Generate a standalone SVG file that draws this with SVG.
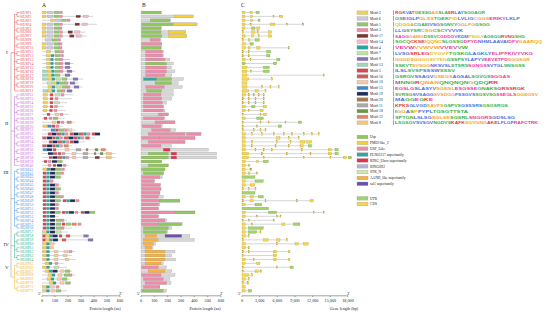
<svg xmlns="http://www.w3.org/2000/svg" width="550" height="314" viewBox="0 0 550 314">
<style>
text{font-family:"Liberation Serif","Times New Roman",serif}
.lb{font-size:3.6px}
.c1{fill:#e8474c}.c2{fill:#c064d2}.c3{fill:#3f92dc}.c4{fill:#27b083}.c5{fill:#efb226}
.t1{stroke:#e8474c}.t2{stroke:#c064d2}.t3{stroke:#3f92dc}.t4{stroke:#27b083}.t5{stroke:#efb226}
.tr{fill:none;stroke-width:.5}
.ln{stroke:#a3a3a3;stroke-width:.45;fill:none}
.bar{fill:#d7d7d7;stroke:#a0a0a0;stroke-width:.3;y:-1.4px;height:2.8px}
.U,.P,.L,.T,.R,.G,.K,.O,.S{y:-1.4px;height:2.8px;stroke:#8d8d8d;stroke-width:.2}
.U{fill:#8fc85a}.P{fill:#f8d034}.L{fill:#f08aa8}.T{fill:#2ea7a0}.R{fill:#e8304a}.G{fill:#b9b2d8}.K{fill:#c9e8a9}.O{fill:#f8b040}.S{fill:#6a52a8}
.e{fill:#f7d44c;stroke:#a89a3a;stroke-width:.25;y:-1.3px;height:2.6px}
.u{fill:#a3d26e;stroke:#6f9a40;stroke-width:.25;y:-1.3px;height:2.6px}
.ax{stroke:#333;stroke-width:.45;fill:none}
.tk{font-size:4.2px;text-anchor:middle;fill:#222}
.tt{font-size:4.2px;text-anchor:middle;fill:#222}
.pl{font-size:5.5px;fill:#222}
.gl{font-size:5px;fill:#222}
.lg{font-size:3.6px;fill:#222}
.sw{stroke:#999;stroke-width:.3}
.lo{font-family:"Liberation Sans",Arial,sans-serif;font-weight:bold;font-size:4.4px}
.g{fill:#3cb043}.b{fill:#4a72e0}.r{fill:#e8409c}.o{fill:#f4a42a}.p{fill:#9a55b8}.y{fill:#e6c020}.k{fill:#e03a3a}
</style>
<defs>
<rect id="a2" y="-1.3" width="4" height="2.6" fill="#f6d04d" stroke="#999" stroke-width=".25"/>
<rect id="a6" y="-1.3" width="6" height="2.6" fill="#c9c9d9" stroke="#999" stroke-width=".25"/>
<rect id="a1" y="-1.3" width="5" height="2.6" fill="#94c66b" stroke="#999" stroke-width=".25"/>
<rect id="a3" y="-1.3" width="3" height="2.6" fill="#f28ca5" stroke="#999" stroke-width=".25"/>
<rect id="a17" y="-1.3" width="4.5" height="2.6" fill="#7b3535" stroke="#999" stroke-width=".25"/>
<rect id="a14" y="-1.3" width="5.5" height="2.6" fill="#f5b8c9" stroke="#999" stroke-width=".25"/>
<rect id="a4" y="-1.3" width="3" height="2.6" fill="#26a69a" stroke="#999" stroke-width=".25"/>
<rect id="a7" y="-1.3" width="5" height="2.6" fill="#bfe3a6" stroke="#999" stroke-width=".25"/>
<rect id="a9" y="-1.3" width="5" height="2.6" fill="#8474b8" stroke="#999" stroke-width=".25"/>
<rect id="a13" y="-1.3" width="5" height="2.6" fill="#9fd8b8" stroke="#999" stroke-width=".25"/>
<rect id="a5" y="-1.3" width="3" height="2.6" fill="#e2404f" stroke="#999" stroke-width=".25"/>
<rect id="a16" y="-1.3" width="4" height="2.6" fill="#d85858" stroke="#999" stroke-width=".25"/>
<rect id="a10" y="-1.3" width="4" height="2.6" fill="#f9c9a0" stroke="#999" stroke-width=".25"/>
<rect id="a15" y="-1.3" width="4" height="2.6" fill="#3b8ad4" stroke="#999" stroke-width=".25"/>
<rect id="a19" y="-1.3" width="5" height="2.6" fill="#1f2e5c" stroke="#999" stroke-width=".25"/>
<rect id="a20" y="-1.3" width="2" height="2.6" fill="#a57c52" stroke="#999" stroke-width=".25"/>
<rect id="a11" y="-1.3" width="5" height="2.6" fill="#a9a9a9" stroke="#999" stroke-width=".25"/>
<rect id="a18" y="-1.3" width="3" height="2.6" fill="#6b9a3e" stroke="#999" stroke-width=".25"/>
<rect id="a12" y="-1.3" width="4.5" height="2.6" fill="#e88466" stroke="#999" stroke-width=".25"/>
<rect id="a8" y="-1.3" width="5.5" height="2.6" fill="#f9c476" stroke="#999" stroke-width=".25"/>
</defs>
<rect width="550" height="314" fill="#fff"/>
<g id="titles"><text class="pl" x="42" y="7">A</text><text class="pl" x="142" y="7">B</text><text class="pl" x="241" y="7">C</text>
<text class="gl" x="6" y="54">I</text><text class="gl" x="5" y="125">II</text><text class="gl" x="3.5" y="174">III</text><text class="gl" x="3.5" y="246">IV</text><text class="gl" x="5" y="269">V</text></g>
<g id="tree">
<path class="tr" stroke="#8a8a8a" stroke-width=".8" d="M11 52.7V277.1"/>
<path class="tr t1" d="M11 52.7H14.5M19.5 12.5H17V16.4H19.5M14.5 14.45H17M19.5 20.3H17V24.3H19.5M14.5 22.3H17M19.5 28.2H17V32.1H19.5M14.5 30.15H17M19.5 36H17V39.9H19.5M14.5 37.95H17M19.5 43.9H17V47.8H19.5M14.5 45.85H17M19.5 51.7H17V55.6H19.5M14.5 53.65H17M19.5 59.5H17V63.5H19.5M14.5 61.5H17M19.5 67.4H17V71.3H19.5M14.5 69.35H17M19.5 75.2H17V79.1H19.5M14.5 77.15H17M19.5 83.1H17V87H19.5M14.5 85.05H17M14.5 14.45V90.9H19.5"/>
<path class="tr t2" d="M11 131.1H14.5M19.5 94.8H17V98.7H19.5M14.5 96.75H17M19.5 102.7H17V106.6H19.5M14.5 104.65H17M19.5 110.5H17V114.4H19.5M14.5 112.45H17M19.5 118.3H17V122.3H19.5M14.5 120.3H17M19.5 126.2H17V130.1H19.5M14.5 128.15H17M19.5 134H17V137.9H19.5M14.5 135.95H17M19.5 141.9H17V145.8H19.5M14.5 143.85H17M19.5 149.7H17V153.6H19.5M14.5 151.65H17M19.5 157.5H17V161.5H19.5M14.5 159.5H17M14.5 96.75V165.4H19.5"/>
<path class="tr t3" d="M11 198.7H14.5M19.5 169.3H17V173.2H19.5M14.5 171.25H17M19.5 177.1H17V181.1H19.5M14.5 179.1H17M19.5 185H17V188.9H19.5M14.5 186.95H17M19.5 192.8H17V196.7H19.5M14.5 194.75H17M19.5 200.7H17V204.6H19.5M14.5 202.65H17M19.5 208.5H17V212.4H19.5M14.5 210.45H17M19.5 216.3H17V220.3H19.5M14.5 218.3H17M19.5 224.2H17V228.1H19.5M14.5 226.15H17M14.5 171.25V226.15"/>
<path class="tr t4" d="M11 245.7H14.5M19.5 232H17V235.9H19.5M14.5 233.95H17M19.5 239.9H17V243.8H19.5M14.5 241.85H17M19.5 247.7H17V251.6H19.5M14.5 249.65H17M19.5 255.5H17V259.5H19.5M14.5 257.5H17M14.5 233.95V257.5"/>
<path class="tr t5" d="M11 277.1H14.5M19.5 263.4H17V267.3H19.5M14.5 265.35H17M19.5 271.2H17V275.1H19.5M14.5 273.15H17M19.5 279.1H17V283H19.5M14.5 281.05H17M19.5 286.9H17V290.8H19.5M14.5 288.85H17M14.5 265.35V288.85"/>
</g>
<g id="SlUSP1" transform="translate(0,12.5)"><text class="lb c1" x="20" y="1.3">SlUSP1</text><path class="ln" d="M42 0H62.2M242 0H259.3"/><use href="#a2" x="42"/><use href="#a6" x="47"/><use href="#a1" x="54"/><use href="#a3" x="59.5"/><rect class="bar" x="141" width="20.7"/><rect class="U" x="141.7" width="19.3"/><rect class="e" x="242" width="3"/><rect class="e" x="250" width="2.5"/><rect class="u" x="256" width="3.3"/></g>
<g id="SlUSP2" transform="translate(0,16.4)"><text class="lb c1" x="20" y="1.3">SlUSP2</text><path class="ln" d="M42 0H93M242 0H282.7"/><use href="#a2" x="42"/><use href="#a6" x="47"/><use href="#a1" x="54"/><use href="#a3" x="59.5"/><use href="#a17" x="76"/><use href="#a14" x="83"/><rect class="bar" x="141" width="52.3"/><rect class="P" x="174.3" width="18.9"/><rect class="e" x="242" width="3"/><rect class="e" x="250.5" width="2"/><rect class="e" x="273" width="1"/><rect class="e" x="279.3" width="3.4"/></g>
<g id="SlUSP3" transform="translate(0,20.3)"><text class="lb c1" x="20" y="1.3">SlUSP3</text><path class="ln" d="M42 0H70.9M242 0H260"/><use href="#a2" x="50.5"/><use href="#a6" x="55"/><use href="#a1" x="61.5"/><use href="#a3" x="67"/><rect class="bar" x="141" width="29.6"/><rect class="U" x="150.1" width="20"/><rect class="e" x="242" width="3"/><rect class="e" x="250.7" width="2"/><rect class="u" x="258.3" width="1.7"/></g>
<g id="SlUSP4" transform="translate(0,24.3)"><text class="lb c1" x="20" y="1.3">SlUSP4</text><path class="ln" d="M42 0H96.9M242 0H303.7"/><use href="#a2" x="42"/><use href="#a6" x="47"/><use href="#a1" x="54"/><use href="#a3" x="59.5"/><use href="#a17" x="75"/><use href="#a14" x="82"/><rect class="bar" x="141" width="56.3"/><rect class="U" x="141.7" width="31.6"/><rect class="P" x="173.3" width="23.3"/><rect class="e" x="242" width="3"/><rect class="e" x="250" width="1.7"/><rect class="e" x="270" width="5"/><rect class="e" x="286.7" width="1"/><rect class="u" x="302.7" width="1"/></g>
<g id="SlUSP5" transform="translate(0,28.2)"><text class="lb c1" x="20" y="1.3">SlUSP5</text><path class="ln" d="M42 0H62.2M242 0H260"/><use href="#a2" x="42"/><use href="#a6" x="47"/><use href="#a1" x="54"/><use href="#a3" x="59"/><rect class="bar" x="141" width="20.7"/><rect class="U" x="141.7" width="19.3"/><rect class="e" x="242" width="3"/><rect class="u" x="251.7" width="3.3"/><rect class="e" x="256.7" width="3.3"/></g>
<g id="SlUSP6" transform="translate(0,32.1)"><text class="lb c1" x="20" y="1.3">SlUSP6</text><path class="ln" d="M42 0H85.6M242 0H271.6"/><use href="#a2" x="42"/><use href="#a6" x="47"/><use href="#a1" x="54"/><use href="#a3" x="59.5"/><use href="#a17" x="68"/><use href="#a14" x="74.5"/><rect class="bar" x="141" width="44.7"/><rect class="U" x="141.7" width="19.3"/><rect class="P" x="168.3" width="17.3"/><rect class="e" x="242" width="1.7"/><rect class="e" x="251.7" width="3.3"/><rect class="e" x="257" width="1.5"/><rect class="e" x="268.3" width="3.3"/></g>
<g id="SlUSP7" transform="translate(0,36)"><text class="lb c1" x="20" y="1.3">SlUSP7</text><path class="ln" d="M42 0H86.5M242 0H271.7"/><use href="#a2" x="42"/><use href="#a6" x="47"/><use href="#a1" x="54"/><use href="#a3" x="59.5"/><use href="#a17" x="69.5"/><use href="#a14" x="76"/><rect class="bar" x="141" width="45.6"/><rect class="U" x="141.7" width="20"/><rect class="P" x="168.3" width="18.3"/><rect class="e" x="242" width="3"/><rect class="e" x="251.7" width="1.7"/><rect class="e" x="258.3" width="1"/><rect class="e" x="268.3" width="3.4"/></g>
<g id="SlUSP8" transform="translate(0,39.9)"><text class="lb c1" x="20" y="1.3">SlUSP8</text><path class="ln" d="M42 0H61.5M242 0H259.3"/><use href="#a6" x="45.5"/><use href="#a1" x="52"/><use href="#a3" x="57.5"/><rect class="bar" x="141" width="20"/><rect class="L" x="150.1" width="9.9"/><rect class="e" x="242" width="1.7"/><rect class="e" x="248.3" width="1.7"/><rect class="u" x="255" width="4.3"/></g>
<g id="SlUSP9" transform="translate(0,43.9)"><text class="lb c1" x="20" y="1.3">SlUSP9</text><path class="ln" d="M42 0H62.2M242 0H253.3"/><use href="#a2" x="42"/><use href="#a6" x="47"/><use href="#a1" x="54"/><use href="#a3" x="59"/><rect class="bar" x="141" width="20.7"/><rect class="L" x="141.7" width="20"/><rect class="e" x="242" width="3.3"/><rect class="u" x="250" width="3.3"/></g>
<g id="SlUSP10" transform="translate(0,47.8)"><text class="lb c1" x="20" y="1.3">SlUSP10</text><path class="ln" d="M42 0H62.2M242 0H289.3"/><use href="#a2" x="42"/><use href="#a6" x="47"/><use href="#a1" x="54"/><use href="#a3" x="59"/><rect class="bar" x="141" width="20.7"/><rect class="U" x="141.7" width="19.3"/><rect class="e" x="242" width="3.3"/><rect class="e" x="248.3" width="1.7"/><rect class="e" x="256.7" width="3.3"/><rect class="e" x="288.3" width="1"/></g>
<g id="SlUSP11" transform="translate(0,51.7)"><text class="lb c1" x="20" y="1.3">SlUSP11</text><path class="ln" d="M42 0H63.7M242 0H270.7"/><use href="#a2" x="46.5"/><use href="#a1" x="55"/><use href="#a3" x="60.5"/><rect class="bar" x="141" width="22.3"/><rect class="L" x="145.7" width="16.9"/><rect class="e" x="242" width="1.7"/><rect class="e" x="248.3" width="1"/><rect class="u" x="266.7" width="4"/></g>
<g id="SlUSP12" transform="translate(0,55.6)"><text class="lb c1" x="20" y="1.3">SlUSP12</text><path class="ln" d="M42 0H63.7M242 0H270"/><use href="#a2" x="46.5"/><use href="#a4" x="51"/><use href="#a1" x="55"/><use href="#a3" x="60.5"/><rect class="bar" x="141" width="22.3"/><rect class="L" x="145.7" width="16.9"/><rect class="e" x="242" width="1.7"/><rect class="e" x="248.3" width="1"/><rect class="u" x="266.7" width="3.3"/></g>
<g id="SlUSP13" transform="translate(0,59.5)"><text class="lb c1" x="20" y="1.3">SlUSP13</text><path class="ln" d="M42 0H70.2M242 0H280"/><use href="#a2" x="46.5"/><use href="#a4" x="50.5"/><use href="#a1" x="55"/><use href="#a3" x="60"/><rect class="bar" x="141" width="28.9"/><rect class="L" x="145.7" width="19.3"/><rect class="e" x="242" width="3.3"/><rect class="e" x="250" width="1"/><rect class="u" x="276.7" width="3.3"/></g>
<g id="SlUSP14" transform="translate(0,63.5)"><text class="lb c1" x="20" y="1.3">SlUSP14</text><path class="ln" d="M42 0H73.5M242 0H276.7"/><use href="#a2" x="46.5"/><use href="#a4" x="50.5"/><use href="#a1" x="55"/><use href="#a3" x="60"/><use href="#a9" x="65"/><rect class="bar" x="141" width="32.3"/><rect class="U" x="145.7" width="20.9"/><rect class="u" x="242" width="3.3"/><rect class="u" x="273.3" width="3.4"/></g>
<g id="SlUSP15" transform="translate(0,67.4)"><text class="lb c1" x="20" y="1.3">SlUSP15</text><path class="ln" d="M42 0H71.9M242 0H269.3"/><use href="#a2" x="46.5"/><use href="#a4" x="50.5"/><use href="#a1" x="55"/><use href="#a3" x="60"/><use href="#a9" x="65"/><rect class="bar" x="141" width="30.7"/><rect class="L" x="145.7" width="20.9"/><rect class="e" x="242" width="5"/><rect class="u" x="263.3" width="6"/></g>
<g id="SlUSP16" transform="translate(0,71.3)"><text class="lb c1" x="20" y="1.3">SlUSP16</text><path class="ln" d="M42 0H75.2M242 0H269.3"/><use href="#a13" x="42.5"/><use href="#a2" x="47.5"/><use href="#a4" x="51.5"/><use href="#a1" x="55"/><use href="#a3" x="60"/><use href="#a9" x="67"/><rect class="bar" x="141" width="34"/><rect class="L" x="145.7" width="20.9"/><rect class="e" x="242" width="5"/><rect class="e" x="250.7" width="1"/><rect class="u" x="263.3" width="6"/></g>
<g id="SlUSP17" transform="translate(0,75.2)"><text class="lb c1" x="20" y="1.3">SlUSP17</text><path class="ln" d="M42 0H71.9M242 0H324.3"/><use href="#a13" x="42.5"/><use href="#a2" x="47.5"/><use href="#a4" x="51.5"/><use href="#a1" x="55"/><use href="#a9" x="65"/><rect class="bar" x="141" width="30.7"/><rect class="L" x="145.7" width="19.3"/><rect class="e" x="242" width="5"/><rect class="e" x="323.3" width="1"/></g>
<g id="SlUSP18" transform="translate(0,79.1)"><text class="lb c1" x="20" y="1.3">SlUSP18</text><path class="ln" d="M42 0H83.2M242 0H272.7"/><use href="#a13" x="42.5"/><use href="#a2" x="48"/><use href="#a4" x="52"/><use href="#a7" x="56"/><use href="#a1" x="62"/><use href="#a9" x="73"/><rect class="bar" x="141" width="42.3"/><rect class="T" x="143.4" width="13.3"/><rect class="U" x="156.7" width="14.9"/><rect class="e" x="242" width="6.7"/><rect class="e" x="271.7" width="1"/></g>
<g id="SlUSP19" transform="translate(0,83.1)"><text class="lb c1" x="20" y="1.3">SlUSP19</text><path class="ln" d="M42 0H78.4M242 0H247"/><use href="#a7" x="47"/><use href="#a2" x="52.5"/><use href="#a4" x="56.5"/><use href="#a1" x="60"/><use href="#a3" x="65"/><use href="#a9" x="70"/><rect class="bar" x="141" width="37.3"/><rect class="U" x="155" width="16.7"/><rect class="e" x="242" width="5"/></g>
<g id="SlUSP20" transform="translate(0,87)"><text class="lb c1" x="20" y="1.3">SlUSP20</text><path class="ln" d="M42 0H82.3M242 0H279.3"/><use href="#a2" x="48"/><use href="#a4" x="52"/><use href="#a7" x="56"/><use href="#a1" x="62"/><use href="#a3" x="67"/><use href="#a9" x="74"/><rect class="bar" x="141" width="41.3"/><rect class="L" x="145.7" width="18.7"/><rect class="e" x="242" width="5"/><rect class="e" x="261.7" width="1"/><rect class="e" x="270" width="1"/><rect class="e" x="278.3" width="1"/></g>
<g id="SlUSP21" transform="translate(0,90.9)"><text class="lb c1" x="20" y="1.3">SlUSP21</text><path class="ln" d="M42 0H73.5M242 0H266"/><use href="#a13" x="43"/><use href="#a2" x="48"/><use href="#a4" x="52"/><use href="#a1" x="57"/><use href="#a3" x="62"/><use href="#a9" x="67"/><rect class="bar" x="141" width="32.3"/><rect class="U" x="146.6" width="15.1"/><rect class="e" x="242" width="6.7"/><rect class="e" x="255" width="3.3"/><rect class="e" x="265" width="1"/></g>
<g id="SlUSP22" transform="translate(0,94.8)"><text class="lb c2" x="20" y="1.3">SlUSP22</text><path class="ln" d="M42 0H73.5M242 0H264.3"/><use href="#a2" x="43.5"/><use href="#a5" x="50"/><use href="#a7" x="55"/><use href="#a3" x="61"/><rect class="bar" x="141" width="32.3"/><rect class="L" x="143.7" width="17.3"/><rect class="e" x="242" width="3.3"/><rect class="e" x="248.3" width="1"/><rect class="e" x="253.3" width="1"/><rect class="e" x="258.3" width="1"/><rect class="e" x="263.3" width="1"/></g>
<g id="SlUSP23" transform="translate(0,98.7)"><text class="lb c2" x="20" y="1.3">SlUSP23</text><path class="ln" d="M42 0H71.9M242 0H264.3"/><use href="#a2" x="43.5"/><use href="#a5" x="50"/><use href="#a3" x="55"/><rect class="bar" x="141" width="30.7"/><rect class="L" x="143.4" width="18.3"/><rect class="e" x="242" width="1.7"/><rect class="e" x="248.3" width="1"/><rect class="e" x="255" width="1"/><rect class="e" x="263.3" width="1"/></g>
<g id="SlUSP24" transform="translate(0,102.7)"><text class="lb c2" x="20" y="1.3">SlUSP24</text><path class="ln" d="M42 0H67M242 0H264.3"/><use href="#a2" x="43.5"/><use href="#a5" x="50"/><use href="#a7" x="54.5"/><rect class="bar" x="141" width="25.6"/><rect class="L" x="143.4" width="18.9"/><rect class="e" x="242" width="1.7"/><rect class="e" x="248.3" width="1"/><rect class="e" x="255" width="1"/><rect class="e" x="263.3" width="1"/></g>
<g id="SlUSP25" transform="translate(0,106.6)"><text class="lb c2" x="20" y="1.3">SlUSP25</text><path class="ln" d="M42 0H63.7M242 0H266.6"/><use href="#a2" x="43.5"/><use href="#a5" x="50"/><use href="#a3" x="54.5"/><rect class="bar" x="141" width="22.3"/><rect class="L" x="143.4" width="19.9"/><rect class="e" x="242" width="3.3"/><rect class="u" x="251.7" width="3.3"/><rect class="e" x="263.3" width="3.3"/></g>
<g id="SlUSP26" transform="translate(0,110.5)"><text class="lb c2" x="20" y="1.3">SlUSP26</text><path class="ln" d="M42 0H65.4M242 0H263.3"/><use href="#a2" x="43"/><use href="#a5" x="49.5"/><use href="#a3" x="54"/><rect class="bar" x="141" width="24"/><rect class="L" x="143.4" width="19.9"/><rect class="e" x="242" width="3.3"/><rect class="e" x="248.3" width="1"/><rect class="e" x="260" width="3.3"/></g>
<g id="SlUSP27" transform="translate(0,114.4)"><text class="lb c2" x="20" y="1.3">SlUSP27</text><path class="ln" d="M42 0H68.7M242 0H266.6"/><use href="#a5" x="47"/><use href="#a10" x="55"/><use href="#a3" x="60"/><rect class="bar" x="141" width="27.3"/><rect class="L" x="158.3" width="10"/><rect class="e" x="242" width="1.7"/><rect class="e" x="260" width="1"/><rect class="e" x="263.3" width="3.3"/></g>
<g id="SlUSP28" transform="translate(0,118.3)"><text class="lb c2" x="20" y="1.3">SlUSP28</text><path class="ln" d="M42 0H64.8M242 0H263.4"/><use href="#a5" x="44"/><use href="#a3" x="49"/><use href="#a1" x="53"/><rect class="bar" x="141" width="23.3"/><rect class="L" x="143.4" width="20.9"/><rect class="e" x="242" width="3.3"/><rect class="u" x="256.7" width="6.7"/></g>
<g id="SlUSP29" transform="translate(0,122.3)"><text class="lb c2" x="20" y="1.3">SlUSP29</text><path class="ln" d="M42 0H75.2M242 0H301.6"/><use href="#a10" x="52"/><use href="#a5" x="57"/><use href="#a3" x="61"/><use href="#a12" x="67"/><rect class="bar" x="141" width="34"/><rect class="L" x="155" width="20"/><rect class="e" x="242" width="1.7"/><rect class="e" x="260" width="1"/><rect class="e" x="268.3" width="1"/><rect class="e" x="285" width="1"/><rect class="u" x="298.3" width="3.3"/></g>
<g id="SlUSP30" transform="translate(0,126.2)"><text class="lb c2" x="20" y="1.3">SlUSP30</text><path class="ln" d="M42 0H62.8M242 0H281.6"/><use href="#a2" x="43"/><use href="#a15" x="47.5"/><use href="#a5" x="52"/><use href="#a3" x="56"/><rect class="bar" x="141" width="21.3"/><rect class="L" x="142.3" width="18.7"/><rect class="e" x="242" width="1.7"/><rect class="e" x="256.7" width="1"/><rect class="u" x="278.3" width="3.3"/></g>
<g id="SlUSP31" transform="translate(0,130.1)"><text class="lb c2" x="20" y="1.3">SlUSP31</text><path class="ln" d="M42 0H75.8M242 0H266"/><use href="#a15" x="51"/><use href="#a5" x="55.5"/><use href="#a1" x="59"/><use href="#a3" x="64.5"/><use href="#a10" x="68"/><rect class="bar" x="141" width="34.7"/><rect class="L" x="151.7" width="18.4"/><rect class="e" x="242" width="1.7"/><rect class="e" x="253.3" width="1"/><rect class="e" x="260" width="1"/><rect class="e" x="265" width="1"/></g>
<g id="SlUSP32" transform="translate(0,134)"><text class="lb c2" x="20" y="1.3">SlUSP32</text><path class="ln" d="M42 0H100.5M242 0H319.3"/><use href="#a5" x="48"/><use href="#a19" x="51.5"/><use href="#a16" x="57"/><use href="#a4" x="61.5"/><use href="#a3" x="65"/><use href="#a5" x="70"/><use href="#a19" x="73.5"/><use href="#a16" x="79"/><use href="#a4" x="83.5"/><use href="#a3" x="87"/><use href="#a5" x="92"/><use href="#a19" x="95"/><rect class="bar" x="141" width="60"/><rect class="L" x="148.3" width="18.3"/><rect class="L" x="166.6" width="18.4"/><rect class="L" x="186.6" width="14.4"/><rect class="e" x="242" width="3.3"/><rect class="e" x="251.7" width="1"/><rect class="e" x="261.7" width="1"/><rect class="e" x="273.3" width="1"/><rect class="e" x="283.3" width="1"/><rect class="e" x="291.7" width="1"/><rect class="e" x="303.3" width="1"/><rect class="e" x="311.7" width="1"/><rect class="e" x="318.3" width="1"/></g>
<g id="SlUSP33" transform="translate(0,137.9)"><text class="lb c2" x="20" y="1.3">SlUSP33</text><path class="ln" d="M42 0H94.7M242 0H299.3"/><use href="#a16" x="42.5"/><use href="#a19" x="47"/><use href="#a5" x="52.5"/><use href="#a4" x="56"/><use href="#a3" x="59.5"/><use href="#a16" x="64"/><use href="#a19" x="68.5"/><use href="#a5" x="74"/><use href="#a4" x="77.5"/><use href="#a3" x="81"/><use href="#a16" x="85.5"/><rect class="bar" x="141" width="54"/><rect class="L" x="141.7" width="18.3"/><rect class="L" x="159.9" width="20"/><rect class="L" x="179.9" width="15.1"/><rect class="e" x="242" width="3.3"/><rect class="e" x="276.7" width="3.3"/><rect class="e" x="288.3" width="1"/><rect class="e" x="298.3" width="1"/></g>
<g id="SlUSP34" transform="translate(0,141.9)"><text class="lb c2" x="20" y="1.3">SlUSP34</text><path class="ln" d="M42 0H84.9M242 0H311.7"/><use href="#a5" x="49"/><use href="#a19" x="52.5"/><use href="#a16" x="58"/><use href="#a4" x="62.5"/><use href="#a3" x="66"/><use href="#a5" x="70"/><use href="#a19" x="73.5"/><rect class="bar" x="141" width="44"/><rect class="L" x="148.3" width="36.7"/><rect class="e" x="242" width="3.3"/><rect class="e" x="251.7" width="1"/><rect class="e" x="276.7" width="1"/><rect class="e" x="290" width="1"/><rect class="e" x="300" width="5"/><rect class="e" x="306.7" width="5"/></g>
<g id="SlUSP35" transform="translate(0,145.8)"><text class="lb c2" x="20" y="1.3">SlUSP35</text><path class="ln" d="M42 0H71.9M242 0H311.6"/><use href="#a16" x="42.5"/><use href="#a19" x="47"/><use href="#a5" x="52.5"/><use href="#a4" x="56"/><use href="#a3" x="59.5"/><use href="#a12" x="64"/><rect class="bar" x="141" width="30.7"/><rect class="L" x="141.7" width="19.3"/><rect class="e" x="242" width="3.3"/><rect class="e" x="251.7" width="1"/><rect class="e" x="275" width="1"/><rect class="e" x="288.3" width="1"/><rect class="e" x="300" width="3.3"/><rect class="u" x="308.3" width="3.3"/></g>
<g id="SlUSP36" transform="translate(0,149.7)"><text class="lb c2" x="20" y="1.3">SlUSP36</text><path class="ln" d="M42 0H107.7M242 0H338.3"/><use href="#a15" x="43"/><use href="#a19" x="47"/><use href="#a5" x="53"/><use href="#a10" x="65"/><use href="#a11" x="76"/><use href="#a20" x="86"/><use href="#a18" x="95"/><use href="#a12" x="101"/><rect class="bar" x="141" width="67.3"/><rect class="R" x="163.3" width="6.7"/><rect class="e" x="242" width="3.3"/><rect class="e" x="255" width="1"/><rect class="e" x="263.3" width="1"/><rect class="e" x="271.7" width="1"/><rect class="e" x="301.7" width="1"/><rect class="e" x="328.3" width="3.3"/><rect class="u" x="335" width="3.3"/></g>
<g id="SlUSP37" transform="translate(0,153.6)"><text class="lb c2" x="20" y="1.3">SlUSP37</text><path class="ln" d="M42 0H115.7M242 0H338.3"/><use href="#a19" x="48"/><use href="#a16" x="53"/><use href="#a5" x="58"/><use href="#a3" x="62"/><use href="#a10" x="72"/><use href="#a11" x="83"/><use href="#a20" x="94"/><use href="#a18" x="100"/><use href="#a8" x="106"/><rect class="bar" x="141" width="75.6"/><rect class="U" x="148.3" width="20"/><rect class="R" x="171" width="5.6"/><rect class="e" x="242" width="6.7"/><rect class="e" x="261.7" width="1"/><rect class="e" x="286.7" width="1"/><rect class="e" x="310" width="1"/><rect class="e" x="328.3" width="3.3"/><rect class="u" x="335" width="3.3"/></g>
<g id="SlUSP38" transform="translate(0,157.5)"><text class="lb c2" x="20" y="1.3">SlUSP38</text><path class="ln" d="M42 0H115.7M242 0H351.6"/><use href="#a5" x="49"/><use href="#a19" x="52.5"/><use href="#a16" x="58"/><use href="#a4" x="62.5"/><use href="#a3" x="66"/><use href="#a10" x="72"/><use href="#a11" x="83"/><use href="#a17" x="95"/><use href="#a8" x="106"/><rect class="bar" x="141" width="75.6"/><rect class="U" x="141.7" width="26.7"/><rect class="R" x="171" width="5.6"/><rect class="e" x="242" width="6.7"/><rect class="e" x="263.3" width="1"/><rect class="e" x="303.3" width="1"/><rect class="e" x="330" width="1"/><rect class="e" x="343.3" width="3.3"/><rect class="u" x="348.3" width="3.3"/></g>
<g id="SlUSP39" transform="translate(0,161.5)"><text class="lb c2" x="20" y="1.3">SlUSP39</text><path class="ln" d="M42 0H62.2M242 0H268.3"/><use href="#a5" x="44"/><use href="#a3" x="48"/><use href="#a19" x="52"/><use href="#a1" x="57.5"/><rect class="bar" x="141" width="20.7"/><rect class="U" x="141.7" width="20"/><rect class="e" x="242" width="3.3"/><rect class="e" x="256.7" width="1.7"/><rect class="u" x="263.3" width="5"/></g>
<g id="SlUSP40" transform="translate(0,165.4)"><text class="lb c2" x="20" y="1.3">SlUSP40</text><path class="ln" d="M42 0H68.7M242 0H250"/><use href="#a3" x="48"/><use href="#a5" x="53"/><use href="#a19" x="57"/><use href="#a3" x="63"/><rect class="bar" x="141" width="27.3"/><rect class="U" x="148.3" width="20"/><rect class="e" x="242" width="3.3"/><rect class="e" x="248.3" width="1.7"/></g>
<g id="SlUSP41" transform="translate(0,169.3)"><text class="lb c3" x="20" y="1.3">SlUSP41</text><path class="ln" d="M42 0H65.4M242 0H251.7"/><use href="#a2" x="43"/><use href="#a4" x="47"/><use href="#a19" x="50.5"/><use href="#a1" x="56"/><use href="#a3" x="61.5"/><rect class="bar" x="141" width="24"/><rect class="U" x="141.7" width="23.3"/><rect class="e" x="242" width="3.3"/><rect class="u" x="250" width="1.7"/></g>
<g id="SlUSP42" transform="translate(0,173.2)"><text class="lb c3" x="20" y="1.3">SlUSP42</text><path class="ln" d="M42 0H64.1M242 0H257.7"/><use href="#a5" x="43"/><use href="#a4" x="46.5"/><use href="#a19" x="50"/><use href="#a1" x="55.5"/><use href="#a3" x="60.8"/><rect class="bar" x="141" width="22.7"/><rect class="U" x="143.4" width="20"/><rect class="e" x="242" width="3.3"/><rect class="e" x="248.3" width="1.7"/><rect class="e" x="256.7" width="1"/></g>
<g id="SlUSP43" transform="translate(0,177.1)"><text class="lb c3" x="20" y="1.3">SlUSP43</text><path class="ln" d="M42 0H62.8M242 0H255"/><use href="#a5" x="43"/><use href="#a4" x="46.5"/><use href="#a19" x="50"/><use href="#a1" x="55.5"/><rect class="bar" x="141" width="21.3"/><rect class="L" x="141.7" width="18.3"/><rect class="u" x="242" width="13"/></g>
<g id="SlUSP44" transform="translate(0,181.1)"><text class="lb c3" x="20" y="1.3">SlUSP44</text><path class="ln" d="M42 0H55M242 0H263.3"/><use href="#a5" x="43"/><use href="#a4" x="46.5"/><use href="#a3" x="50"/><rect class="bar" x="141" width="13.3"/><rect class="L" x="141.7" width="12.7"/><rect class="e" x="242" width="3.3"/><rect class="u" x="255" width="8.3"/></g>
<g id="SlUSP45" transform="translate(0,185)"><text class="lb c3" x="20" y="1.3">SlUSP45</text><path class="ln" d="M42 0H60.9M242 0H255"/><use href="#a5" x="43"/><use href="#a4" x="46.5"/><use href="#a19" x="50"/><use href="#a3" x="55.5"/><rect class="bar" x="141" width="19.3"/><rect class="L" x="141.7" width="18.7"/><rect class="e" x="242" width="3.3"/><rect class="e" x="250" width="5"/></g>
<g id="SlUSP46" transform="translate(0,188.9)"><text class="lb c3" x="20" y="1.3">SlUSP46</text><path class="ln" d="M42 0H61.5M242 0H256"/><use href="#a5" x="43"/><use href="#a4" x="46.5"/><use href="#a19" x="50"/><use href="#a1" x="55.5"/><rect class="bar" x="141" width="20"/><rect class="L" x="141.7" width="19.3"/><rect class="e" x="242" width="1.7"/><rect class="e" x="248.3" width="1"/><rect class="e" x="255" width="1"/></g>
<g id="SlUSP47" transform="translate(0,192.8)"><text class="lb c3" x="20" y="1.3">SlUSP47</text><path class="ln" d="M42 0H60.5M242 0H255"/><use href="#a5" x="43"/><use href="#a4" x="46.5"/><use href="#a19" x="50"/><use href="#a3" x="55.5"/><rect class="bar" x="141" width="18.9"/><rect class="L" x="141.7" width="18.3"/><rect class="u" x="242" width="13"/></g>
<g id="SlUSP48" transform="translate(0,196.7)"><text class="lb c3" x="20" y="1.3">SlUSP48</text><path class="ln" d="M42 0H63.7M242 0H263.3"/><use href="#a5" x="43"/><use href="#a4" x="46.5"/><use href="#a19" x="50"/><use href="#a1" x="55.5"/><use href="#a3" x="60.5"/><rect class="bar" x="141" width="22.3"/><rect class="L" x="141.7" width="16.7"/><rect class="e" x="242" width="3.3"/><rect class="e" x="250" width="3.3"/><rect class="u" x="258.3" width="5"/></g>
<g id="SlUSP49" transform="translate(0,200.7)"><text class="lb c3" x="20" y="1.3">SlUSP49</text><path class="ln" d="M42 0H80M242 0H313.3"/><use href="#a5" x="43"/><use href="#a4" x="46.5"/><use href="#a19" x="50"/><use href="#a1" x="55.5"/><use href="#a5" x="63"/><use href="#a4" x="66.5"/><use href="#a19" x="70"/><use href="#a3" x="76"/><rect class="bar" x="141" width="38.9"/><rect class="L" x="141.7" width="18.3"/><rect class="U" x="159.9" width="20"/><rect class="e" x="242" width="1.7"/><rect class="e" x="250" width="3.3"/><rect class="e" x="265" width="1"/><rect class="e" x="296.7" width="1"/><rect class="e" x="310" width="3.3"/></g>
<g id="SlUSP50" transform="translate(0,204.6)"><text class="lb c3" x="20" y="1.3">SlUSP50</text><path class="ln" d="M42 0H60.5M242 0H261.7"/><use href="#a5" x="43"/><use href="#a4" x="46.5"/><use href="#a19" x="50"/><use href="#a3" x="55.5"/><rect class="bar" x="141" width="18.9"/><rect class="L" x="141.7" width="16.7"/><rect class="e" x="242" width="3.3"/><rect class="u" x="255" width="6.7"/></g>
<g id="SlUSP51" transform="translate(0,208.5)"><text class="lb c3" x="20" y="1.3">SlUSP51</text><path class="ln" d="M42 0H58.9M242 0H268.7"/><use href="#a5" x="43"/><use href="#a4" x="46.5"/><use href="#a19" x="50"/><use href="#a3" x="55.5"/><rect class="bar" x="141" width="17.3"/><rect class="L" x="141.7" width="16.7"/><rect class="u" x="242" width="26.7"/></g>
<g id="SlUSP52" transform="translate(0,212.4)"><text class="lb c3" x="20" y="1.3">SlUSP52</text><path class="ln" d="M42 0H94.7M242 0H324.3"/><use href="#a5" x="43"/><use href="#a4" x="46.5"/><use href="#a19" x="50"/><use href="#a1" x="55.5"/><use href="#a5" x="62"/><use href="#a4" x="65.5"/><use href="#a19" x="69"/><use href="#a3" x="75"/><use href="#a5" x="81"/><use href="#a19" x="84.5"/><use href="#a1" x="90"/><rect class="bar" x="141" width="54"/><rect class="L" x="141.7" width="16.7"/><rect class="L" x="158.3" width="16.7"/><rect class="U" x="175" width="20"/><rect class="e" x="242" width="3.3"/><rect class="u" x="268.3" width="8.3"/><rect class="e" x="313.3" width="1"/><rect class="e" x="323.3" width="1"/></g>
<g id="SlUSP53" transform="translate(0,216.3)"><text class="lb c3" x="20" y="1.3">SlUSP53</text><path class="ln" d="M42 0H58.9M242 0H281"/><use href="#a5" x="43"/><use href="#a4" x="46.5"/><use href="#a19" x="50"/><rect class="bar" x="141" width="17.3"/><rect class="L" x="141.7" width="16.7"/><rect class="e" x="242" width="3.3"/><rect class="e" x="256.7" width="1"/><rect class="e" x="276.7" width="1"/><rect class="e" x="280" width="1"/></g>
<g id="SlUSP54" transform="translate(0,220.3)"><text class="lb c3" x="20" y="1.3">SlUSP54</text><path class="ln" d="M42 0H67M242 0H274.3"/><use href="#a5" x="43"/><use href="#a4" x="46.5"/><use href="#a19" x="50"/><use href="#a1" x="56"/><use href="#a3" x="61"/><rect class="bar" x="141" width="25.6"/><rect class="L" x="141.7" width="23.3"/><rect class="e" x="242" width="1.7"/><rect class="e" x="248.3" width="1"/><rect class="e" x="273.3" width="1"/></g>
<g id="SlUSP55" transform="translate(0,224.2)"><text class="lb c3" x="20" y="1.3">SlUSP55</text><path class="ln" d="M42 0H82.3M242 0H300"/><use href="#a5" x="43"/><use href="#a4" x="46.5"/><use href="#a19" x="50"/><use href="#a1" x="56"/><use href="#a5" x="62"/><use href="#a1" x="66"/><use href="#a12" x="72"/><use href="#a3" x="78"/><rect class="bar" x="141" width="41.3"/><rect class="L" x="141.7" width="16.7"/><rect class="U" x="158.3" width="23.3"/><rect class="e" x="242" width="3.3"/><rect class="e" x="251.7" width="1"/><rect class="e" x="281.7" width="3.3"/><rect class="u" x="293.3" width="6.7"/></g>
<g id="SlUSP56" transform="translate(0,228.1)"><text class="lb c3" x="20" y="1.3">SlUSP56</text><path class="ln" d="M42 0H71.9M242 0H263.3"/><use href="#a5" x="43"/><use href="#a4" x="46.5"/><use href="#a19" x="50"/><use href="#a1" x="56"/><use href="#a3" x="61"/><rect class="bar" x="141" width="30.7"/><rect class="U" x="143.4" width="24.9"/><rect class="e" x="242" width="3.3"/><rect class="u" x="248.3" width="15"/></g>
<g id="SlUSP57" transform="translate(0,232)"><text class="lb c4" x="20" y="1.3">SlUSP57</text><path class="ln" d="M42 0H68M242 0H261"/><use href="#a2" x="42.5"/><use href="#a4" x="46.5"/><use href="#a19" x="50"/><use href="#a7" x="56"/><rect class="bar" x="141" width="26.7"/><rect class="U" x="143.4" width="22.9"/><rect class="e" x="242" width="3.3"/><rect class="u" x="248.3" width="8.3"/><rect class="e" x="260" width="1"/></g>
<g id="SlUSP58" transform="translate(0,235.9)"><text class="lb c4" x="20" y="1.3">SlUSP58</text><path class="ln" d="M42 0H89.7M242 0H249.3"/><use href="#a5" x="42.5"/><use href="#a2" x="45.5"/><use href="#a4" x="49.5"/><use href="#a19" x="52.5"/><use href="#a5" x="59"/><use href="#a16" x="66"/><use href="#a9" x="83.5"/><rect class="bar" x="141" width="48.9"/><rect class="O" x="145" width="11.7"/><rect class="S" x="165" width="16.7"/><rect class="e" x="242" width="3.3"/><rect class="e" x="248.3" width="1"/></g>
<g id="SlUSP59" transform="translate(0,239.9)"><text class="lb c4" x="20" y="1.3">SlUSP59</text><path class="ln" d="M42 0H94M242 0H287.7"/><use href="#a5" x="42.5"/><use href="#a2" x="45.5"/><use href="#a4" x="49.5"/><use href="#a19" x="53"/><use href="#a16" x="62"/><use href="#a9" x="88"/><rect class="bar" x="141" width="53.3"/><rect class="O" x="143.4" width="14.9"/><rect class="e" x="242" width="1.7"/><rect class="e" x="263.3" width="5"/><rect class="e" x="276.7" width="3.3"/><rect class="e" x="286.7" width="1"/></g>
<g id="SlUSP60" transform="translate(0,243.8)"><text class="lb c4" x="20" y="1.3">SlUSP60</text><path class="ln" d="M42 0H56.3M242 0H308.3"/><use href="#a2" x="42.5"/><use href="#a4" x="46.5"/><use href="#a10" x="50"/><rect class="bar" x="141" width="14.7"/><rect class="O" x="143.4" width="9.9"/><rect class="e" x="242" width="3.3"/><rect class="e" x="276.7" width="1"/><rect class="e" x="295" width="3.3"/><rect class="e" x="303.3" width="5"/></g>
<g id="SlUSP61" transform="translate(0,247.7)"><text class="lb c4" x="20" y="1.3">SlUSP61</text><path class="ln" d="M42 0H53.7M242 0H249.3"/><use href="#a2" x="42.5"/><use href="#a4" x="46.5"/><use href="#a10" x="49.5"/><rect class="bar" x="141" width="12"/><rect class="O" x="145" width="6.7"/><rect class="e" x="242" width="3.3"/><rect class="e" x="248.3" width="1"/></g>
<g id="SlUSP62" transform="translate(0,251.6)"><text class="lb c4" x="20" y="1.3">SlUSP62</text><path class="ln" d="M42 0H75.2M242 0H290"/><use href="#a2" x="42.5"/><use href="#a4" x="46.5"/><use href="#a10" x="54"/><use href="#a10" x="64"/><use href="#a3" x="69"/><rect class="bar" x="141" width="34"/><rect class="O" x="145" width="20"/><rect class="e" x="242" width="1.7"/><rect class="e" x="248.3" width="1"/><rect class="e" x="273.3" width="3.3"/><rect class="e" x="288.3" width="1.7"/></g>
<g id="SlUSP63" transform="translate(0,255.5)"><text class="lb c4" x="20" y="1.3">SlUSP63</text><path class="ln" d="M42 0H71.9M242 0H276.6"/><use href="#a2" x="42.5"/><use href="#a4" x="46.5"/><use href="#a10" x="54"/><use href="#a10" x="63"/><rect class="bar" x="141" width="30.7"/><rect class="O" x="145" width="20"/><rect class="e" x="242" width="1.7"/><rect class="e" x="273.3" width="3.3"/></g>
<g id="SlUSP64" transform="translate(0,259.5)"><text class="lb c4" x="20" y="1.3">SlUSP64</text><path class="ln" d="M42 0H75.8M242 0H290"/><use href="#a2" x="42.5"/><use href="#a4" x="46.5"/><use href="#a10" x="54"/><use href="#a10" x="65"/><rect class="bar" x="141" width="34.7"/><rect class="O" x="145" width="20"/><rect class="e" x="242" width="3.3"/><rect class="e" x="253.3" width="1"/><rect class="e" x="273.3" width="3.3"/><rect class="e" x="288.3" width="1.7"/></g>
<g id="SlUSP65" transform="translate(0,263.4)"><text class="lb c5" x="20" y="1.3">SlUSP65</text><path class="ln" d="M42 0H63.7M242 0H260"/><use href="#a2" x="45"/><use href="#a4" x="49"/><use href="#a3" x="55"/><rect class="bar" x="141" width="22.3"/><rect class="O" x="145" width="16"/><rect class="e" x="242" width="3.3"/><rect class="e" x="256.7" width="3.3"/></g>
<g id="SlUSP66" transform="translate(0,267.3)"><text class="lb c5" x="20" y="1.3">SlUSP66</text><path class="ln" d="M42 0H67M242 0H293.3"/><use href="#a2" x="42.5"/><use href="#a4" x="46.5"/><use href="#a7" x="54"/><rect class="bar" x="141" width="25.6"/><rect class="L" x="141.7" width="16.7"/><rect class="e" x="242" width="1.7"/><rect class="e" x="276.7" width="1"/><rect class="u" x="290" width="3.3"/></g>
<g id="SlUSP67" transform="translate(0,271.2)"><text class="lb c5" x="20" y="1.3">SlUSP67</text><path class="ln" d="M42 0H71.9M242 0H261.7"/><use href="#a2" x="45"/><use href="#a4" x="49"/><use href="#a19" x="52.5"/><use href="#a10" x="60"/><use href="#a1" x="65"/><rect class="bar" x="141" width="30.7"/><rect class="O" x="148.3" width="16.7"/><rect class="e" x="242" width="1.7"/><rect class="e" x="255" width="3.3"/><rect class="e" x="260" width="1.7"/></g>
<g id="SlUSP68" transform="translate(0,275.1)"><text class="lb c5" x="20" y="1.3">SlUSP68</text><path class="ln" d="M42 0H75.2M242 0H252.7"/><use href="#a2" x="48"/><use href="#a4" x="52"/><use href="#a10" x="58"/><use href="#a1" x="64"/><use href="#a3" x="69"/><rect class="bar" x="141" width="34"/><rect class="L" x="141.7" width="19.3"/><rect class="e" x="242" width="6.7"/><rect class="e" x="251.7" width="1"/></g>
<g id="SlUSP69" transform="translate(0,279.1)"><text class="lb c5" x="20" y="1.3">SlUSP69</text><path class="ln" d="M42 0H70.2M242 0H249.3"/><use href="#a2" x="47"/><use href="#a4" x="51"/><use href="#a10" x="57"/><use href="#a1" x="62"/><rect class="bar" x="141" width="28.9"/><rect class="L" x="143.4" width="19.9"/><rect class="e" x="242" width="3.3"/><rect class="e" x="248.3" width="1"/></g>
<g id="SlUSP70" transform="translate(0,283)"><text class="lb c5" x="20" y="1.3">SlUSP70</text><path class="ln" d="M42 0H71.3M242 0H248.7"/><use href="#a2" x="49"/><use href="#a4" x="53"/><use href="#a10" x="60"/><use href="#a1" x="65.5"/><rect class="bar" x="141" width="30"/><rect class="L" x="145" width="21.6"/><rect class="e" x="242" width="1.7"/><rect class="e" x="247" width="1.7"/></g>
<g id="SlUSP71" transform="translate(0,286.9)"><text class="lb c5" x="20" y="1.3">SlUSP71</text><path class="ln" d="M42 0H60.5M242 0H245.3"/><use href="#a2" x="42.5"/><use href="#a4" x="46.5"/><use href="#a10" x="50.5"/><use href="#a3" x="56"/><rect class="bar" x="141" width="18.9"/><rect class="L" x="143.4" width="16.5"/><rect class="e" x="242" width="3.3"/></g>
<g id="SlUSP72" transform="translate(0,290.8)"><text class="lb c5" x="20" y="1.3">SlUSP72</text><path class="ln" d="M42 0H67M242 0H251.6"/><use href="#a2" x="42.5"/><use href="#a4" x="46.5"/><use href="#a10" x="51"/><use href="#a1" x="56"/><rect class="bar" x="141" width="25.6"/><rect class="U" x="141.7" width="21.6"/><rect class="e" x="242" width="3.3"/><rect class="u" x="248.3" width="3.3"/></g>
<g id="axes">
<path class="ax" d="M42 295.8H120M42 295.8v1.2M55 295.8v1.2M68 295.8v1.2M81 295.8v1.2M94 295.8v1.2M107 295.8v1.2M120 295.8v1.2M141 295.8H221M141 295.8v1.2M154.3 295.8v1.2M167.7 295.8v1.2M181 295.8v1.2M194.3 295.8v1.2M207.7 295.8v1.2M221 295.8v1.2M242 295.8H348M242 295.8v1.2M259.7 295.8v1.2M277.3 295.8v1.2M295 295.8v1.2M312.7 295.8v1.2M330.3 295.8v1.2M348 295.8v1.2"/>
<text class="tk" x="39.5" y="295">5'</text><text class="tk" x="120.5" y="294.5">3'</text>
<text class="tk" x="42" y="301.5">0</text><text class="tk" x="55" y="301.5">100</text><text class="tk" x="68" y="301.5">200</text><text class="tk" x="81" y="301.5">300</text><text class="tk" x="94" y="301.5">400</text><text class="tk" x="107" y="301.5">500</text><text class="tk" x="120" y="301.5">600</text>
<text class="tt" x="105" y="309.5">Protein length (aa)</text>
<text class="tk" x="138.5" y="295">5'</text><text class="tk" x="221.5" y="294.5">3'</text>
<text class="tk" x="141" y="301.5">0</text><text class="tk" x="154.3" y="301.5">100</text><text class="tk" x="167.7" y="301.5">200</text><text class="tk" x="181" y="301.5">300</text><text class="tk" x="194.3" y="301.5">400</text><text class="tk" x="207.7" y="301.5">500</text><text class="tk" x="221" y="301.5">600</text>
<text class="tt" x="205" y="309.5">Protein length (aa)</text>
<text class="tk" x="239.5" y="295">5'</text><text class="tk" x="348.5" y="294.5">3'</text>
<text class="tk" x="242" y="301.5">0</text><text class="tk" x="259.7" y="301.5">3,000</text><text class="tk" x="277.3" y="301.5">6,000</text><text class="tk" x="295" y="301.5">9,000</text><text class="tk" x="312.7" y="301.5">12,000</text><text class="tk" x="330.3" y="301.5">15,000</text><text class="tk" x="348" y="301.5">18,000</text>
<text class="tt" x="344" y="309.5">Gene length (bp)</text>
</g>
<g id="motif-legend">
<rect class="sw" x="357" y="10.9" width="11" height="3.6" fill="#f6d04d"/><text class="lg" x="370" y="13.9">Motif 2</text>
<rect class="sw" x="357" y="16.7" width="11" height="3.6" fill="#c9c9d9"/><text class="lg" x="370" y="19.7">Motif 6</text>
<rect class="sw" x="357" y="22.5" width="11" height="3.6" fill="#94c66b"/><text class="lg" x="370" y="25.5">Motif 1</text>
<rect class="sw" x="357" y="28.3" width="11" height="3.6" fill="#f28ca5"/><text class="lg" x="370" y="31.3">Motif 3</text>
<rect class="sw" x="357" y="34.1" width="11" height="3.6" fill="#7b3535"/><text class="lg" x="370" y="37.1">Motif 17</text>
<rect class="sw" x="357" y="39.9" width="11" height="3.6" fill="#f5b8c9"/><text class="lg" x="370" y="42.9">Motif 14</text>
<rect class="sw" x="357" y="45.6" width="11" height="3.6" fill="#26a69a"/><text class="lg" x="370" y="48.6">Motif 4</text>
<rect class="sw" x="357" y="51.4" width="11" height="3.6" fill="#bfe3a6"/><text class="lg" x="370" y="54.4">Motif 7</text>
<rect class="sw" x="357" y="57.2" width="11" height="3.6" fill="#8474b8"/><text class="lg" x="370" y="60.2">Motif 9</text>
<rect class="sw" x="357" y="63" width="11" height="3.6" fill="#9fd8b8"/><text class="lg" x="370" y="66">Motif 13</text>
<rect class="sw" x="357" y="68.8" width="11" height="3.6" fill="#e2404f"/><text class="lg" x="370" y="71.8">Motif 5</text>
<rect class="sw" x="357" y="74.6" width="11" height="3.6" fill="#d85858"/><text class="lg" x="370" y="77.6">Motif 16</text>
<rect class="sw" x="357" y="80.4" width="11" height="3.6" fill="#f9c9a0"/><text class="lg" x="370" y="83.4">Motif 10</text>
<rect class="sw" x="357" y="86.2" width="11" height="3.6" fill="#3b8ad4"/><text class="lg" x="370" y="89.2">Motif 15</text>
<rect class="sw" x="357" y="92" width="11" height="3.6" fill="#1f2e5c"/><text class="lg" x="370" y="95">Motif 19</text>
<rect class="sw" x="357" y="97.8" width="11" height="3.6" fill="#a57c52"/><text class="lg" x="370" y="100.8">Motif 20</text>
<rect class="sw" x="357" y="103.5" width="11" height="3.6" fill="#a9a9a9"/><text class="lg" x="370" y="106.5">Motif 11</text>
<rect class="sw" x="357" y="109.3" width="11" height="3.6" fill="#6b9a3e"/><text class="lg" x="370" y="112.3">Motif 18</text>
<rect class="sw" x="357" y="115.1" width="11" height="3.6" fill="#e88466"/><text class="lg" x="370" y="118.1">Motif 12</text>
<rect class="sw" x="357" y="120.9" width="11" height="3.6" fill="#f9c476"/><text class="lg" x="370" y="123.9">Motif 8</text>
<path class="ax" stroke-width=".3" d="M393.5 10.2v5M393.5 16v5M393.5 21.8v5M393.5 27.6v5M393.5 33.4v5M393.5 39.2v5M393.5 44.9v5M393.5 50.7v5M393.5 56.5v5M393.5 62.3v5M393.5 68.1v5M393.5 73.9v5M393.5 79.7v5M393.5 85.5v5M393.5 91.3v5M393.5 97.1v5M393.5 102.8v5M393.5 108.6v5M393.5 114.4v5M393.5 120.2v5"/>
<text class="lo" x="395" y="14.4" textLength="90" lengthAdjust="spacingAndGlyphs"><tspan class="k">RG</tspan><tspan class="b">KVAT</tspan><tspan class="g">GESSG</tspan><tspan class="o">AS</tspan><tspan class="g">SLA</tspan><tspan class="k">SR</tspan><tspan class="b">LAY</tspan><tspan class="g">SGGAGR</tspan></text>
<text class="lo" x="395" y="20.2" textLength="125" lengthAdjust="spacingAndGlyphs"><tspan class="g">GS</tspan><tspan class="r">E</tspan><tspan class="b">IGLP</tspan><tspan class="o">GLSS</tspan><tspan class="g">TGEK</tspan><tspan class="y">PID</tspan><tspan class="b">LVLIG</tspan><tspan class="o">CGGS</tspan><tspan class="r">ERIKY</tspan><tspan class="b">LKLP</tspan></text>
<text class="lo" x="395" y="26" textLength="95" lengthAdjust="spacingAndGlyphs"><tspan class="y">QD</tspan><tspan class="o">GGA</tspan><tspan class="g">CGAE</tspan><tspan class="b">IVSG</tspan><tspan class="g">SGNVY</tspan><tspan class="o">GGLPG</tspan><tspan class="g">GSGG</tspan></text>
<text class="lo" x="395" y="31.8" textLength="68" lengthAdjust="spacingAndGlyphs"><tspan class="b">LLG</tspan><tspan class="g">SYSR</tspan><tspan class="o">CSG</tspan><tspan class="g">CSCY</tspan><tspan class="b">VVVK</tspan></text>
<text class="lo" x="395" y="37.6" textLength="130" lengthAdjust="spacingAndGlyphs"><tspan class="r">SAGG</tspan><tspan class="o">GAMG</tspan><tspan class="g">DSSVC</tspan><tspan class="r">GDDG</tspan><tspan class="b">VKDM</tspan><tspan class="y">PSGLY</tspan><tspan class="g">AGSGG</tspan><tspan class="k">RVNG</tspan><tspan class="g">SHG</tspan></text>
<text class="lo" x="395" y="43.4" textLength="147" lengthAdjust="spacingAndGlyphs"><tspan class="g">SGCQ</tspan><tspan class="k">CKSE</tspan><tspan class="o">IQQNC</tspan><tspan class="g">SLGSSG</tspan><tspan class="r">DPYD</tspan><tspan class="b">NHMLAAVAI</tspan><tspan class="r">DFV</tspan><tspan class="o">GAARQQ</tspan></text>
<text class="lo" x="395" y="49.1" textLength="73" lengthAdjust="spacingAndGlyphs"><tspan class="r">VEVW</tspan><tspan class="o">VVWVW</tspan><tspan class="r">VVEV</tspan><tspan class="g">VW</tspan></text>
<text class="lo" x="395" y="54.9" textLength="138" lengthAdjust="spacingAndGlyphs"><tspan class="b">LVSG</tspan><tspan class="k">SRLEG</tspan><tspan class="y">DYGVF</tspan><tspan class="g">TGSKG</tspan><tspan class="b">LAGKLY</tspan><tspan class="r">ELIPF</tspan><tspan class="r">KIVYVKG</tspan></text>
<text class="lo" x="395" y="60.7" textLength="135" lengthAdjust="spacingAndGlyphs"><tspan class="o">GGGDSGG</tspan><tspan class="y">GGSVYEG</tspan><tspan class="g">GSSPS</tspan><tspan class="b">YLAPYV</tspan><tspan class="r">EEVETPD</tspan><tspan class="o">SGGSGR</tspan></text>
<text class="lo" x="395" y="66.5" textLength="130" lengthAdjust="spacingAndGlyphs"><tspan class="g">SSKVT</tspan><tspan class="o">SVSGG</tspan><tspan class="b">NKSVSL</tspan><tspan class="g">STSRS</tspan><tspan class="r">SGNGS</tspan><tspan class="b">SVTGL</tspan><tspan class="g">SNSGSS</tspan></text>
<text class="lo" x="395" y="72.3" textLength="60" lengthAdjust="spacingAndGlyphs"><tspan class="b">ILSL</tspan><tspan class="g">SVSP</tspan><tspan class="b">SSSW</tspan><tspan class="g">SSSV</tspan></text>
<text class="lo" x="395" y="78.1" textLength="115" lengthAdjust="spacingAndGlyphs"><tspan class="g">GSRGV</tspan><tspan class="b">SSAGV</tspan><tspan class="o">GSEGS</tspan><tspan class="b">AGSAL</tspan><tspan class="g">SGVGS</tspan><tspan class="r">SGGAS</tspan></text>
<text class="lo" x="395" y="83.9" textLength="103" lengthAdjust="spacingAndGlyphs"><tspan class="p">M</tspan><tspan class="g">NNG</tspan><tspan class="k">R</tspan><tspan class="o">QNAN</tspan><tspan class="g">QNQNQN</tspan><tspan class="o">G</tspan><tspan class="g">QDQ</tspan><tspan class="k">RR</tspan></text>
<text class="lo" x="395" y="89.7" textLength="130" lengthAdjust="spacingAndGlyphs"><tspan class="r">EGSLG</tspan><tspan class="b">SLASYV</tspan><tspan class="o">SGESL</tspan><tspan class="r">ESGSSE</tspan><tspan class="g">GNAKS</tspan><tspan class="k">GRSSRGK</tspan></text>
<text class="lo" x="395" y="95.5" textLength="143" lengthAdjust="spacingAndGlyphs"><tspan class="g">SVRSG</tspan><tspan class="b">SVSAGG</tspan><tspan class="o">SVSDGG</tspan><tspan class="b">FSSGVS</tspan><tspan class="g">SGSVSG</tspan><tspan class="r">SSEGLS</tspan><tspan class="o">GGEGSV</tspan></text>
<text class="lo" x="395" y="101.3" textLength="38" lengthAdjust="spacingAndGlyphs"><tspan class="b">MA</tspan><tspan class="g">GG</tspan><tspan class="r">E</tspan><tspan class="g">G</tspan><tspan class="k">K</tspan><tspan class="r">E</tspan></text>
<text class="lo" x="395" y="107" textLength="113" lengthAdjust="spacingAndGlyphs"><tspan class="k">KPKS</tspan><tspan class="b">GLVGD</tspan><tspan class="o">SAVFS</tspan><tspan class="g">GSPVS</tspan><tspan class="b">GSSSRS</tspan><tspan class="g">GSGSRGS</tspan></text>
<text class="lo" x="395" y="112.8" textLength="73" lengthAdjust="spacingAndGlyphs"><tspan class="b">I</tspan><tspan class="o">GG</tspan><tspan class="b">A</tspan><tspan class="g">S</tspan><tspan class="y">P</tspan><tspan class="b">FYPL</tspan><tspan class="g">TGSGTTSTA</tspan></text>
<text class="lo" x="395" y="118.6" textLength="120" lengthAdjust="spacingAndGlyphs"><tspan class="g">SPTGN</tspan><tspan class="b">LSLSG</tspan><tspan class="o">SGLSE</tspan><tspan class="g">SGSRL</tspan><tspan class="r">SNGGRS</tspan><tspan class="b">GDSLSG</tspan></text>
<text class="lo" x="395" y="124.4" textLength="143" lengthAdjust="spacingAndGlyphs"><tspan class="b">L</tspan><tspan class="g">SGSG</tspan><tspan class="b">VSVSGV</tspan><tspan class="g">NGDVS</tspan><tspan class="k">KAFK</tspan><tspan class="o">SGVGNG</tspan><tspan class="k">AKE</tspan><tspan class="b">LFLGF</tspan><tspan class="r">RAFCTRK</tspan></text>
</g>
<g id="domain-legend">
<rect class="sw" x="357" y="135.2" width="11" height="3.6" fill="#8fc85a"/><text class="lg" x="370" y="138.2">Usp</text>
<rect class="sw" x="357" y="141.1" width="11" height="3.6" fill="#f8d034"/><text class="lg" x="370" y="144.1">PMEI-like_2</text>
<rect class="sw" x="357" y="146.9" width="11" height="3.6" fill="#f08aa8"/><text class="lg" x="370" y="149.9">USP_Like</text>
<rect class="sw" x="357" y="152.8" width="11" height="3.6" fill="#2ea7a0"/><text class="lg" x="370" y="155.8">PLN03217 superfamily</text>
<rect class="sw" x="357" y="158.6" width="11" height="3.6" fill="#e8304a"/><text class="lg" x="370" y="161.6">RING_Ubox superfamily</text>
<rect class="sw" x="357" y="164.5" width="11" height="3.6" fill="#b9b2d8"/><text class="lg" x="370" y="167.5">RING0H2</text>
<rect class="sw" x="357" y="170.3" width="11" height="3.6" fill="#c9e8a9"/><text class="lg" x="370" y="173.3">STK_N</text>
<rect class="sw" x="357" y="176.2" width="11" height="3.6" fill="#f8b040"/><text class="lg" x="370" y="179.2">AANH_like superfamily</text>
<rect class="sw" x="357" y="182" width="11" height="3.6" fill="#6a52a8"/><text class="lg" x="370" y="185">sal1 superfamily</text>
<rect class="sw" x="357" y="196.5" width="11" height="3.6" fill="#a3d26e"/><text class="lg" x="370" y="199.5">UTR</text>
<rect class="sw" x="357" y="202.2" width="11" height="3.6" fill="#f7d44c"/><text class="lg" x="370" y="205.2">CDS</text>
</g>
</svg>
